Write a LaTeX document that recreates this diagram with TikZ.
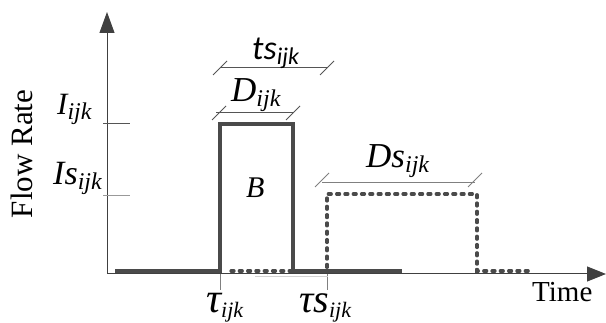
\documentclass[tikz,border=0pt]{standalone}
\usepackage{fontspec}
\setmainfont{Liberation Serif}
\newfontfamily\sansit{Carlito}[ItalicFont=* Italic]
\usetikzlibrary{arrows.meta}
\definecolor{axisc}{HTML}{404040}
\definecolor{sigc}{HTML}{4A4A4A}
\definecolor{dimc}{HTML}{555555}
\newcommand\lbl[4]{{\fontsize{#1}{#1}\selectfont\itshape #2}\raisebox{-5pt}{\fontsize{#4}{#4}\selectfont\itshape #3}}
\tikzset{
  axisline/.style={draw=axisc, line width=1pt},
  sigsolid/.style={draw=sigc, line width=3.2pt},
  sigdot/.style={draw=sigc, line width=3.2pt, line cap=round, dash pattern=on 3pt off 5.3pt},
  dimline/.style={draw=dimc, line width=1pt},
  tickline/.style={draw=dimc, line width=1pt},
  lab/.style={inner sep=0pt, anchor=base west},
}
\begin{document}
\begin{tikzpicture}[x=1pt, y=-1pt]
\useasboundingbox (0,0) rectangle (606,323);
% axes
\coordinate (O) at (107,274);
\coordinate (ytip) at (107,12);
\coordinate (xtip) at (606,274);
\draw[axisline, -{Triangle[length=21pt, width=15pt]}] (O) -- (ytip);
\draw[axisline, -{Triangle[length=19pt, width=15pt]}] (O) -- (xtip);
% ticks
\coordinate (ti1) at (103,124); \coordinate (ti2) at (130,124);
\coordinate (ts1) at (103,196); \coordinate (ts2) at (130,196);
\coordinate (tt1) at (220,274); \coordinate (tt2) at (220,290);
\coordinate (tu1) at (327,274); \coordinate (tu2) at (327,290);
\draw[tickline] (ti1) -- (ti2);
\draw[tickline, draw=gray!80] (ts1) -- (ts2);
\draw[tickline, draw=gray] (tt1) -- (tt2);
\draw[tickline, draw=gray] (tu1) -- (tu2);
% faint line
\draw[draw=gray!35, line width=1pt] (255,277) -- (328,277);
% dotted signal
\draw[sigdot] (231,271) -- (327,271) -- (327,194) -- (477,194) -- (477,271) -- (530,271);
% solid signal
\draw[sigsolid] (115,271) -- (220,271) -- (220,124) -- (293,124) -- (293,271) -- (402,271);
% dimension lines
\draw[dimline] (220,68) -- (327,68);
\draw[dimline] (213,75) -- (227,61);
\draw[dimline] (320,75) -- (334,61);
\draw[dimline] (216,113) -- (293,113);
\draw[dimline] (212,120) -- (226,106);
\draw[dimline] (286,120) -- (300,106);
\draw[dimline, draw=gray] (322,183) -- (475,183);
\draw[dimline, draw=gray] (315,187) -- (329,173);
\draw[dimline, draw=gray] (468,187) -- (482,173);
% labels
\node[inner sep=0pt, rotate=90, font=\fontsize{31}{31}\selectfont] (ylab) at (22,154) {Flow Rate};
\node[lab, font=\fontsize{29}{29}\selectfont] (xlab) at (532,302) {Time};
\node[lab] (Il) at (57,115) {\lbl{31}{I}{ijk}{24}};
\node[lab] (Isl) at (53,185) {\lbl{34}{Is}{ijk}{24}};
\node[lab] (Dl) at (231,102) {\lbl{35}{D}{ijk}{24}};
\node[lab] (Dsl) at (366,168) {\lbl{35}{Ds}{ijk}{24}};
\node[lab] (tsl) at (252,60) {\sansit{\fontsize{34}{34}\selectfont\itshape ts}\raisebox{-5pt}{\sansit\fontsize{24}{24}\selectfont\itshape ijk}};
\node[lab, font=\fontsize{30}{30}\selectfont\itshape] (Bl) at (246,198) {B};
\node[lab] (taul) at (206,313) {\lbl{42}{τ}{ijk}{22}};
\node[lab] (tausl) at (299,313) {\lbl{40}{τs}{ijk}{22}};
\end{tikzpicture}
\end{document}
